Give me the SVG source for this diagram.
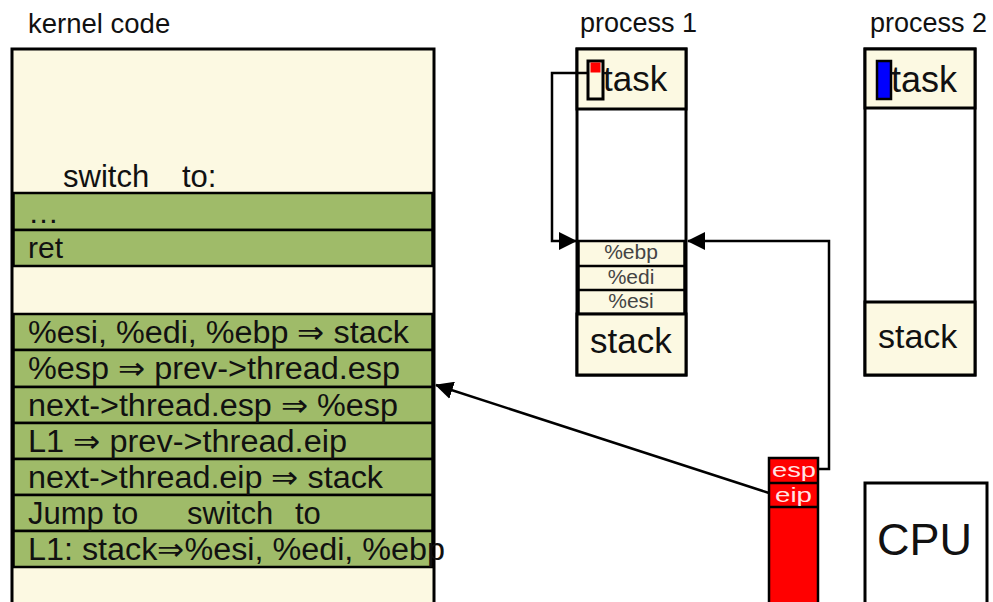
<svg xmlns="http://www.w3.org/2000/svg" width="993" height="602" viewBox="0 0 993 602">
<defs>
<style>
.t{font-family:"Liberation Sans",Arial,sans-serif;fill:#111}
.box{stroke:#000;stroke-width:3}
.cream{fill:#fcf9e2}
.green{fill:#9fbb69;stroke:#000;stroke-width:2.5}
.white{fill:#fff}
.row{font-size:31px}
.reg{font-family:"Liberation Sans",Arial,sans-serif;font-size:21px;fill:#444;text-anchor:middle}
.conn{fill:none;stroke:#000;stroke-width:2.5}
.red{fill:#ff0000;stroke:#000;stroke-width:2.5}
.rl{font-family:"Liberation Sans",Arial,sans-serif;font-size:21px;fill:#ffe4e4}
</style>
<marker id="ah" markerUnits="userSpaceOnUse" markerWidth="18" markerHeight="18" viewBox="0 0 18 18" refX="17" refY="9" orient="auto"><path d="M0,0 L18,9 L0,18 z" fill="#000"/></marker>
</defs>
<rect width="993" height="602" fill="#fff"/>

<g id="kernel">
<text class="t" x="28" y="33" font-size="27.5">kernel code</text>
<rect class="box cream" x="12" y="49" width="422" height="560"/>
<text class="t" x="63" y="187" font-size="31">switch<tspan x="182">to:</tspan></text>
<rect class="green" x="13.5" y="193" width="419" height="37"/>
<rect class="green" x="13.5" y="230" width="419" height="36"/>
<text class="t" x="28" y="223" font-size="31">…</text>
<text class="t" x="28" y="258" font-size="30">ret</text>
<rect class="green" x="13.5" y="314" width="419" height="36"/>
<rect class="green" x="13.5" y="350" width="419" height="37"/>
<rect class="green" x="13.5" y="387" width="419" height="36"/>
<rect class="green" x="13.5" y="423" width="419" height="36"/>
<rect class="green" x="13.5" y="459" width="419" height="36"/>
<rect class="green" x="13.5" y="495" width="419" height="36"/>
<rect class="green" x="13.5" y="531" width="419" height="36"/>
<text class="t row" x="28" y="343" textLength="381" lengthAdjust="spacingAndGlyphs">%esi, %edi, %ebp ⇒ stack</text>
<text class="t row" x="28" y="379" textLength="372" lengthAdjust="spacingAndGlyphs">%esp ⇒ prev-&gt;thread.esp</text>
<text class="t row" x="28" y="416" textLength="370" lengthAdjust="spacingAndGlyphs">next-&gt;thread.esp ⇒ %esp</text>
<text class="t row" x="28" y="452" textLength="319" lengthAdjust="spacingAndGlyphs">L1 ⇒ prev-&gt;thread.eip</text>
<text class="t row" x="28" y="488" textLength="355" lengthAdjust="spacingAndGlyphs">next-&gt;thread.eip ⇒ stack</text>
<text class="t row" x="28" y="524">Jump to<tspan x="187">switch</tspan><tspan x="295">to</tspan></text>
<text class="t row" x="28" y="560" textLength="417" lengthAdjust="spacingAndGlyphs">L1: stack⇒%esi, %edi, %ebp</text>
</g>

<g id="process1">
<text class="t" x="580" y="32" font-size="27">process 1</text>
<rect class="box white" x="577" y="49" width="109" height="326"/>
<rect class="box cream" x="577" y="49" width="109" height="60"/>
<rect x="588" y="61" width="15" height="38" fill="none" stroke="#000" stroke-width="3"/>
<rect x="590.5" y="62.5" width="10" height="10" fill="#ff0000"/>
<text class="t" x="603" y="91" font-size="35">task</text>
<rect class="cream" x="578.5" y="241" width="106" height="73" stroke="#000" stroke-width="2.5"/>
<line x1="578" y1="266" x2="685" y2="266" stroke="#000" stroke-width="2.5"/>
<line x1="578" y1="290" x2="685" y2="290" stroke="#000" stroke-width="2.5"/>
<text class="reg" x="631" y="259">%ebp</text>
<text class="reg" x="631" y="284">%edi</text>
<text class="reg" x="631" y="308">%esi</text>
<rect class="box cream" x="577" y="314" width="109" height="61"/>
<text class="t" x="590" y="353" font-size="35">stack</text>
</g>

<g id="process2">
<text class="t" x="870" y="32" font-size="27">process 2</text>
<rect class="box white" x="865" y="49" width="110" height="326"/>
<rect class="box cream" x="865" y="49" width="110" height="59"/>
<rect x="877" y="61" width="14" height="38" fill="#0000ff" stroke="#000" stroke-width="2.5"/>
<text class="t" x="891" y="92" font-size="36">task</text>
<rect class="box cream" x="865" y="302" width="110" height="73"/>
<text class="t" x="878" y="348" font-size="34">stack</text>
</g>

<g id="registers">
<rect class="red" x="769" y="458" width="49" height="160"/>
<line x1="769" y1="483" x2="818" y2="483" stroke="#000" stroke-width="2.5"/>
<line x1="769" y1="507" x2="818" y2="507" stroke="#000" stroke-width="2.5"/>
<text class="rl" x="772" y="477" textLength="44" lengthAdjust="spacingAndGlyphs">esp</text>
<text class="rl" x="775" y="502" textLength="37" lengthAdjust="spacingAndGlyphs">eip</text>
</g>

<g id="cpu">
<rect x="865" y="483" width="122" height="130" fill="#fff" stroke="#000" stroke-width="3"/>
<text class="t" x="877" y="555" font-size="45">CPU</text>
</g>

<g id="connectors">
<path class="conn" d="M588,73 H552 V241 H576" marker-end="url(#ah)"/>
<path class="conn" d="M818,469 H829 V241 H688" marker-end="url(#ah)"/>
<path class="conn" d="M769,493 L436,385" marker-end="url(#ah)"/>
</g>
</svg>
